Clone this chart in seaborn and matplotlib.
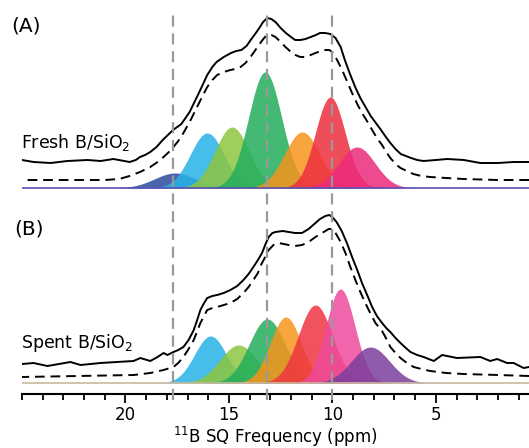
import numpy as np
import pandas as pd
import seaborn as sns
import matplotlib.pyplot as plt
from matplotlib.ticker import MultipleLocator

# ---- data (ppm, intensity a.u.) ----
# Fresh B/SiO2 : Gaussian components
fresh_centers = [17.6, 16.05, 14.85, 13.25, 11.46, 10.10, 8.81]
fresh_heights = [15, 55, 61, 116, 56, 91, 41]
fresh_widths = [1.0, 0.82, 0.82, 0.80, 0.85, 0.72, 0.87]
fresh_colors = ["#2b4a9e", "#27b3e6", "#8dc63f", "#22ad5c", "#f7941d", "#ee2e3e", "#ec2a7b"]

# Spent B/SiO2 : Gaussian components
spent_centers = [15.89, 14.53, 13.15, 12.25, 10.82, 9.61, 8.16]
spent_heights = [47, 38, 64, 66, 78, 94, 36]
spent_widths = [0.77, 0.90, 0.87, 0.75, 0.83, 0.70, 0.92]
spent_colors = ["#27b3e6", "#8dc63f", "#22ad5c", "#f7941d", "#ee3540", "#ee4a9c", "#7b3f9e"]

# experimental spectrum and total fit, fresh
fresh_exp_ppm = [25.0, 24.44, 23.62, 22.8, 21.84, 21.2, 20.58, 19.8, 19.5, 19.3, 19.05,
                 18.8, 18.5, 18.2, 17.95, 17.7, 17.3, 16.9, 16.5, 16.25, 16.05, 15.8,
                 15.6, 15.25, 14.9, 14.65, 14.4, 14.15, 13.95, 13.7, 13.5, 13.35, 13.15,
                 12.95, 12.75, 12.5, 12.25, 12.0, 11.8, 11.55, 11.3, 11.05, 10.8, 10.6,
                 10.35, 10.1, 9.85, 9.6, 9.4, 9.15, 8.9, 8.65, 8.4, 8.15, 7.9, 7.65,
                 7.45, 7.2, 6.95, 6.7, 6.45, 6.2, 5.9, 5.6, 5.0, 4.45, 3.65, 2.85, 2.0,
                 1.25, 0.5]
fresh_exp_int = [28, 26, 25, 27, 28, 27, 29, 26, 28, 31, 33,
                 36, 41, 48, 53, 58, 64, 76, 93, 104, 113, 121,
                 126, 131, 135, 137, 138, 142, 148, 155, 161, 166, 170,
                 169, 166, 160, 155, 151, 148, 148, 149, 151, 153, 155,
                 155, 154, 150, 141, 128, 114, 101, 90, 81, 72, 65, 58,
                 52, 45, 39, 34, 32, 30, 28, 27, 28, 29, 28, 25, 25,
                 26, 26]
fresh_fit_ppm = [25.0, 21.0, 20.3, 19.8, 19.3, 18.8, 18.45, 18.16, 17.9, 17.68, 17.45,
                 17.2, 16.85, 16.54, 16.3, 16.05, 15.8, 15.57, 15.25, 14.93, 14.7,
                 14.44, 14.2, 13.96, 13.72, 13.45, 13.3, 13.16, 12.95, 12.75, 12.5,
                 12.27, 12.0, 11.79, 11.55, 11.3, 11.05, 10.82, 10.55, 10.34, 10.15,
                 10.01, 9.8, 9.53, 9.3, 9.05, 8.8, 8.57, 8.3, 8.08, 7.85, 7.6, 7.4, 7.2,
                 6.95, 6.71, 6.4, 6.09, 5.7, 5.27, 4.5, 3.67, 2.0, 0.5]
fresh_fit_int = [8, 8, 9, 12, 16, 21, 26, 31, 36, 41, 47,
                 55, 68, 81, 91, 101, 108, 113, 116, 118, 119,
                 121, 125, 131, 138, 146, 150, 153, 153, 151, 146,
                 141, 136, 133, 131, 131, 133, 135, 137, 138, 138,
                 136, 129, 118, 107, 95, 84, 75, 66, 58, 50, 43, 36, 30,
                 24, 20, 17, 14, 12, 11, 10, 9, 8, 8]

# experimental spectrum and total fit, spent
spent_exp_ppm = [25.0, 24.44, 23.77, 22.66, 22.17, 21.21, 19.61, 19.28, 18.8, 18.45,
                 18.16, 17.97, 17.68, 17.45, 17.2, 16.95, 16.7, 16.55, 16.38, 16.2, 16.05,
                 15.8, 15.57, 15.25, 14.93, 14.6, 14.3, 14.05, 13.82, 13.6, 13.4, 13.25,
                 13.08, 12.9, 12.75, 12.4, 12.11, 11.8, 11.47, 11.15, 10.82, 10.6, 10.34,
                 10.15, 10.01, 9.8, 9.55, 9.3, 9.05, 8.8, 8.57, 8.3, 8.08, 7.85, 7.6,
                 7.4, 7.2, 6.95, 6.71, 6.45, 6.23, 5.9, 5.59, 5.1, 4.7, 3.98, 2.85,
                 2.37, 2.04, 1.56, 1.24, 0.76, 0.5]
spent_exp_int = [19, 20, 17, 21, 18, 20, 22, 25, 22, 26,
                 30, 28, 31, 33, 36, 43, 53, 62, 73, 80, 85,
                 87, 88, 90, 93, 97, 103, 109, 116, 123, 130, 138,
                 146, 150, 151, 152, 151, 150, 150, 154, 160, 164, 167,
                 168, 166, 161, 152, 140, 126, 113, 100, 87, 76, 67, 60,
                 55, 51, 45, 40, 35, 31, 28, 26, 22, 28, 25, 26,
                 22, 24, 20, 20, 15, 16]
spent_fit_ppm = [25.0, 19.6, 18.8, 18.16, 17.68, 17.45, 17.2, 16.95, 16.7, 16.38, 16.05,
                 15.8, 15.57, 15.25, 14.93, 14.6, 14.3, 14.05, 13.82, 13.6, 13.45, 13.25,
                 13.08, 12.85, 12.6, 12.35, 12.11, 11.8, 11.47, 11.15, 10.82, 10.5, 10.18,
                 10.0, 9.85, 9.6, 9.37, 9.15, 8.89, 8.65, 8.41, 8.15, 7.92, 7.6, 7.44,
                 7.2, 6.95, 6.71, 6.4, 6.07, 5.7, 5.27, 4.5, 3.67, 2.0, 0.5]
spent_fit_int = [6, 8, 10, 13, 16, 20, 26, 34, 43, 60, 73,
                 75, 76, 78, 80, 84, 90, 96, 103, 110, 118, 126,
                 133, 138, 140, 139, 138, 137, 138, 141, 146, 150, 154,
                 154, 150, 141, 130, 117, 103, 91, 80, 69, 60, 52, 46,
                 36, 30, 25, 20, 16, 14, 12, 10, 9, 8, 7]

ref_lines = [17.7, 13.15, 10.0]
tick_labels = ["20", "15", "10", "5"]

# ---- figure ----
sns.set_theme(style="white")
plt.rcParams["font.family"] = ["DejaVu Sans"]
plt.rcParams["mathtext.default"] = "regular"
plt.rcParams["text.color"] = "black"
plt.rcParams["axes.labelcolor"] = "black"
plt.rcParams["xtick.color"] = "black"

fig = plt.figure(figsize=(5.29, 4.48), dpi=100)
ax = fig.add_axes([22 / 529, 54 / 448, 507 / 529, 394 / 448])

offset_a = 206
offset_b = 11
grid = np.linspace(25, 0.5, 800)


def draw_panel(centers, heights, widths, colors, exp_ppm, exp_int, fit_ppm, fit_int, base, line_col):
    for c, h, w, col in zip(centers, heights, widths, colors):
        g = h * np.exp(-0.5 * ((grid - c) / w) ** 2)
        ax.fill_between(grid, base, base + g, color=col, alpha=0.85, linewidth=0)
    ax.plot([25, 0.5], [base, base], color=line_col, lw=1.2)
    exp_df = pd.DataFrame({"ppm": exp_ppm, "y": np.array(exp_int) + base})
    fit_df = pd.DataFrame({"ppm": fit_ppm, "y": np.array(fit_int) + base})
    sns.lineplot(data=fit_df, x="ppm", y="y", ax=ax, color="black", lw=1.4,
                 linestyle=(0, (5, 3)), solid_joinstyle="round", dash_joinstyle="round")
    sns.lineplot(data=exp_df, x="ppm", y="y", ax=ax, color="black", lw=1.4,
                 solid_joinstyle="round")


draw_panel(fresh_centers, fresh_heights, fresh_widths, fresh_colors,
           fresh_exp_ppm, fresh_exp_int, fresh_fit_ppm, fresh_fit_int, offset_a, "#5a52b8")
draw_panel(spent_centers, spent_heights, spent_widths, spent_colors,
           spent_exp_ppm, spent_exp_int, spent_fit_ppm, spent_fit_int, offset_b, "#c9b9a0")

ax.vlines(ref_lines, -6, 381, colors="#999999", lw=1.6, linestyles=(0, (5, 3)),
          clip_on=False, zorder=5)

ax.set_xlim(25, 0.5)
ax.set_ylim(0, 394)
ax.set_yticks([])
ax.xaxis.set_minor_locator(MultipleLocator(1))
ax.set_xticks([20, 15, 10, 5])
ax.set_xticklabels(tick_labels)
ax.tick_params(axis="x", which="major", bottom=True, length=6.5, width=1.3,
               labelsize=12, pad=2, color="black", labelcolor="black")
ax.tick_params(axis="x", which="minor", bottom=True, length=4.2, width=1.3, color="black")
for s in ["top", "left", "right"]:
    ax.spines[s].set_visible(False)
ax.spines["bottom"].set_linewidth(1.5)
ax.spines["bottom"].set_color("black")
ax.set_ylabel("")
ax.set_xlabel("$^{11}$B SQ Frequency (ppm)", fontsize=12, labelpad=0.5, color="black")

fig.text(11 / 529, 1 - 26.5 / 448, "(A)", fontsize=14.5, va="center", ha="left", color="black")
fig.text(14 / 529, 1 - 229 / 448, "(B)", fontsize=14.5, va="center", ha="left", color="black")
fig.text(21 / 529, 1 - 148 / 448, "Fresh B/SiO$_2$", fontsize=12.5, va="baseline", ha="left",
         color="black")
fig.text(21 / 529, 1 - 348 / 448, "Spent B/SiO$_2$", fontsize=12.5, va="baseline", ha="left",
         color="black")

fig.savefig("out.png", dpi=100)
